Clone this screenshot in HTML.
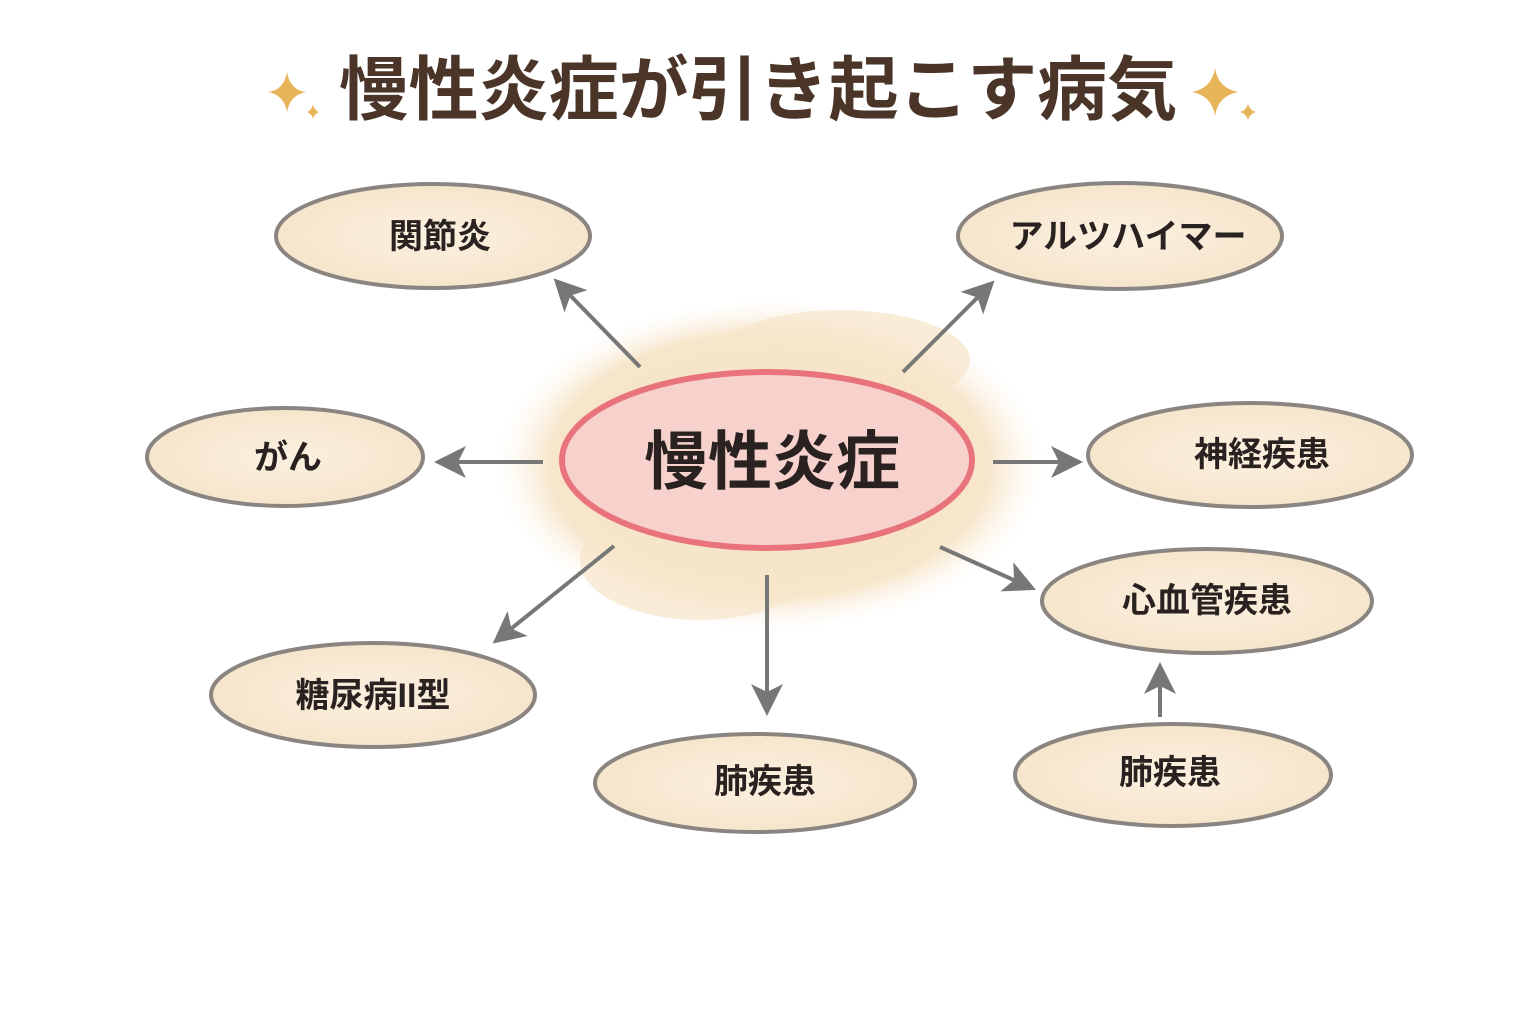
<!DOCTYPE html>
<html><head><meta charset="utf-8"><style>
html,body{margin:0;padding:0;background:#fff;}
svg{display:block;}
text{font-family:"Liberation Sans","Noto Sans CJK JP",sans-serif;}
</style></head><body>
<svg width="1536" height="1024" viewBox="0 0 1536 1024" xmlns="http://www.w3.org/2000/svg">
<defs>
<radialGradient id="cloud" cx="50%" cy="50%" r="50%">
<stop offset="0%" stop-color="#f5dfbb"/><stop offset="80%" stop-color="#f7e6cb"/><stop offset="100%" stop-color="#fdf6ec" stop-opacity="0"/>
</radialGradient>
<radialGradient id="pill" cx="50%" cy="50%" r="60%">
<stop offset="0%" stop-color="#fbf0e0"/><stop offset="100%" stop-color="#f5e3c8"/>
</radialGradient>
<marker id="ah" markerWidth="8" markerHeight="8" refX="5" refY="4" orient="auto" markerUnits="strokeWidth">
<path d="M0,0 L8,4 L0,8 L2,4 Z" fill="#777"/>
</marker>
</defs>
<rect width="1536" height="1024" fill="#fff"/>
<text x="758" y="114" text-anchor="middle" font-size="70" font-weight="bold" fill="#4a3528">慢性炎症が引き起こす病気</text>
<g fill="#e8b45a">
<path d="M287,72 Q290,90 306,92 Q290,95 287,112 Q284,95 268,92 Q284,90 287,72Z"/>
<path d="M313,104 Q314,110 319,112 Q314,114 313,119 Q312,114 307,112 Q312,110 313,104Z"/>
<path d="M1215,68 Q1218,88 1238,92 Q1218,96 1215,116 Q1212,96 1192,92 Q1212,88 1215,68Z"/>
<path d="M1248,103 Q1249,110 1256,112 Q1249,114 1248,121 Q1247,114 1240,112 Q1247,110 1248,103Z"/>
</g>
<ellipse cx="770" cy="465" rx="275" ry="165" fill="url(#cloud)"/>
<ellipse cx="700" cy="560" rx="120" ry="60" fill="#f7e6cb" opacity="0.7"/>
<ellipse cx="840" cy="360" rx="130" ry="50" fill="#f7e6cb" opacity="0.7"/>
<ellipse cx="767" cy="460" rx="205" ry="88" fill="#f7d2cd" stroke="#e9737c" stroke-width="6"/>
<text x="772" y="484" text-anchor="middle" font-size="64" font-weight="bold" fill="#2a2220">慢性炎症</text>
<g stroke="#777" stroke-width="4" fill="none" marker-end="url(#ah)">
<line x1="640" y1="367" x2="562" y2="287"/>
<line x1="903" y1="372" x2="986" y2="289"/>
<line x1="543" y1="462" x2="446" y2="462"/>
<line x1="993" y1="462" x2="1071" y2="462"/>
<line x1="940" y1="547" x2="1025" y2="585"/>
<line x1="614" y1="546" x2="502" y2="636"/>
<line x1="767" y1="575" x2="767" y2="704"/>
<line x1="1160" y1="717" x2="1160" y2="674"/>
</g>
<g fill="url(#pill)" stroke="#8a8580" stroke-width="4">
<ellipse cx="433" cy="236" rx="157" ry="52"/>
<ellipse cx="1120" cy="236" rx="162" ry="53"/>
<ellipse cx="285" cy="457" rx="138" ry="49"/>
<ellipse cx="1250" cy="455" rx="162" ry="52"/>
<ellipse cx="1207" cy="601" rx="165" ry="52"/>
<ellipse cx="373" cy="695" rx="162" ry="52"/>
<ellipse cx="755" cy="783" rx="160" ry="49"/>
<ellipse cx="1173" cy="775" rx="158" ry="51"/>
</g>
<g font-size="34" font-weight="600" fill="#2a2220" text-anchor="middle">
<text x="440" y="248">関節炎</text>
<text x="1128" y="248">アルツハイマー</text>
<text x="288" y="469">がん</text>
<text x="1262" y="466">神経疾患</text>
<text x="1207" y="612">心血管疾患</text>
<text x="373" y="707">糖尿病II型</text>
<text x="765" y="793">肺疾患</text>
<text x="1170" y="784">肺疾患</text>
</g>
</svg>
</body></html>
